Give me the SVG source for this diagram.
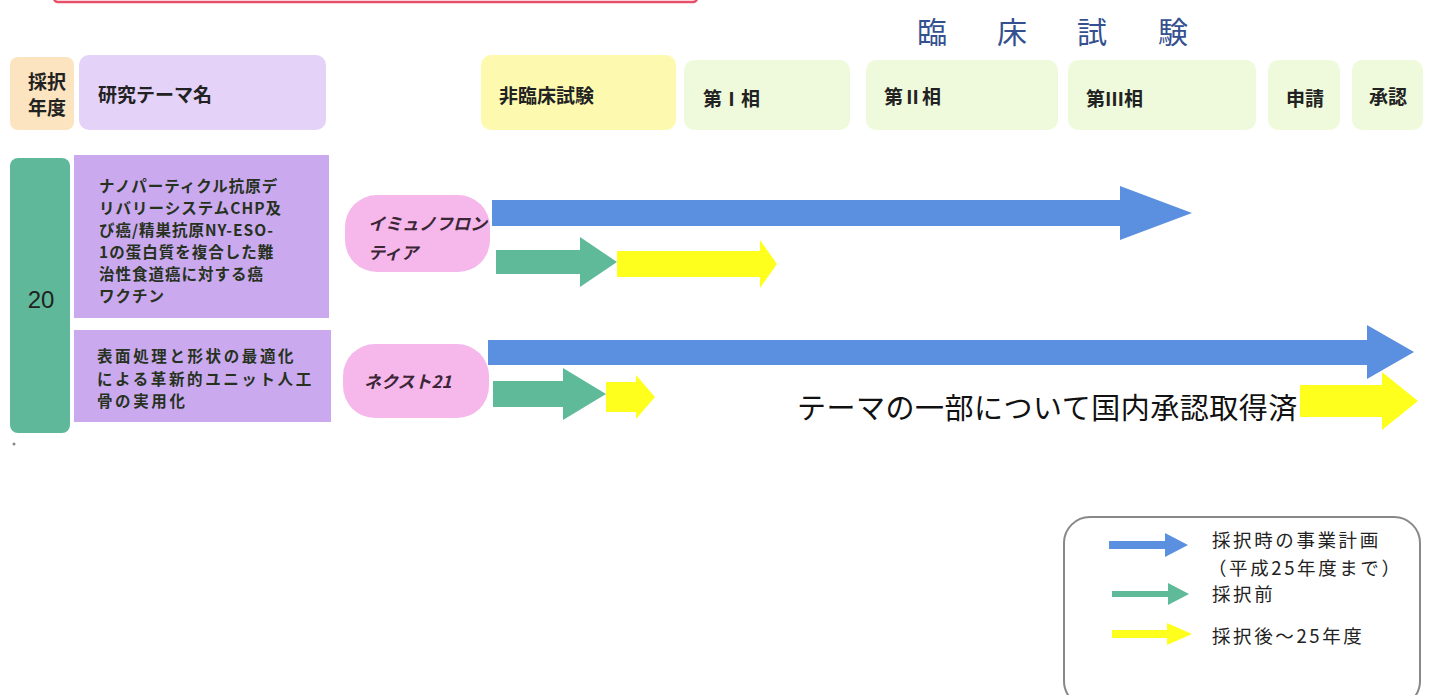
<svg xmlns="http://www.w3.org/2000/svg" width="1430" height="695" viewBox="0 0 1430 695">
<style>
.jp{font-family:"Noto Sans CJK JP","Liberation Sans",sans-serif}
.hd{font-size:19px;font-weight:bold;fill:#222}
.th{font-size:15.5px;font-weight:bold;fill:#26321e;letter-spacing:1px}
.th2{letter-spacing:2.6px}
.pl{font-size:17px;font-weight:bold;font-style:italic;fill:#3a2636}
.lg{font-size:18.5px;fill:#222;letter-spacing:2.6px}
.blue{fill:#5b8fdf}
.green{fill:#5fba9a}
.yellow{fill:#ffff1e}
.ph{fill:#eefadb}
</style>
<rect x="54" y="-20" width="643" height="22" rx="4" fill="#fff" stroke="#e8506a" stroke-width="2.5"/>

<g id="title">
<text class="jp" x="917" y="43" font-size="30" fill="#34508f"><tspan x="917">臨</tspan><tspan x="997">床</tspan><tspan x="1077">試</tspan><tspan x="1158">験</tspan></text>
</g>

<g id="hdr-year">
<rect x="10" y="57" width="64" height="73" rx="8" fill="#fde4c0"/>
<text class="jp hd" x="47" y="89" text-anchor="middle">採択</text>
<text class="jp hd" x="47" y="115" text-anchor="middle">年度</text>
</g>
<g id="hdr-theme">
<rect x="79" y="55" width="247" height="75" rx="10" fill="#e4d2f8"/>
<text class="jp hd" x="98" y="102">研究テーマ名</text>
</g>
<g id="hdr-nonclinical">
<rect x="481" y="55" width="195" height="75" rx="10" fill="#fdfab0"/>
<text class="jp hd" x="499" y="103">非臨床試験</text>
</g>
<g id="hdr-p1">
<rect x="684" y="60" width="166" height="70" rx="10" class="ph"/>
<text class="jp hd" x="703" y="106">第Ⅰ相</text>
</g>
<g id="hdr-p2">
<rect x="866" y="60" width="192" height="70" rx="10" class="ph"/>
<text class="jp hd" x="884" y="104">第Ⅱ相</text>
</g>
<g id="hdr-p3">
<rect x="1068" y="60" width="188" height="70" rx="10" class="ph"/>
<text class="jp hd" x="1086" y="106">第Ⅲ相</text>
</g>
<g id="hdr-apply">
<rect x="1268" y="60" width="72" height="70" rx="10" class="ph"/>
<text class="jp hd" x="1286" y="106">申請</text>
</g>
<g id="hdr-approve">
<rect x="1352" y="60" width="71" height="70" rx="10" class="ph"/>
<text class="jp hd" x="1369" y="104">承認</text>
</g>

<g id="year20">
<rect x="10" y="158" width="60" height="275" rx="8" fill="#5fb89a"/>
<text x="41" y="308" font-family="Liberation Sans, sans-serif" font-size="24" fill="#222" text-anchor="middle">20</text>
</g>
<circle cx="14" cy="444" r="1.5" fill="#888"/>

<g id="theme1">
<rect x="74" y="155" width="255" height="163" fill="#caa9ef"/>
<text class="jp th" x="99" y="192">ナノパーティクル抗原デ</text>
<text class="jp th" x="99" y="214">リバリーシステムCHP及</text>
<text class="jp th" x="99" y="236">び癌/精巣抗原NY-ESO-</text>
<text class="jp th" x="99" y="258">1の蛋白質を複合した難</text>
<text class="jp th" x="99" y="280">治性食道癌に対する癌</text>
<text class="jp th" x="99" y="302">ワクチン</text>
</g>
<g id="theme2">
<rect x="74" y="330" width="257" height="92" fill="#caa9ef"/>
<text class="jp th th2" x="97" y="362">表面処理と形状の最適化</text>
<text class="jp th th2" x="97" y="385">による革新的ユニット人工</text>
<text class="jp th th2" x="97" y="407">骨の実用化</text>
</g>

<g id="org1">
<rect x="345" y="195" width="145" height="77" rx="32" fill="#f6b7ea"/>
<text class="jp pl" x="368" y="230">イミュノフロン</text>
<text class="jp pl" x="368" y="259">ティア</text>
</g>
<g id="org2">
<rect x="343" y="344" width="146" height="74" rx="32" fill="#f6b7ea"/>
<text class="jp pl" x="364" y="388">ネクスト21</text>
</g>

<g id="connectors">
<polygon class="blue" points="492,200 1120,200 1120,186 1192,213 1120,240 1120,226 492,226"/>
<polygon class="green" points="496,250 580,250 580,237 617,262 580,287 580,274 496,274"/>
<polygon class="yellow" points="617,251 760,251 760,240 777,264 760,288 760,277 617,277"/>
<polygon class="blue" points="488,340 1367,340 1367,325 1414,352 1367,379 1367,365 488,365"/>
<polygon class="green" points="493,381 563,381 563,368 606,394 563,420 563,407 493,407"/>
<polygon class="yellow" points="606,382 636,382 636,375 655,397 636,419 636,412 606,412"/>
<polygon class="yellow" points="1300,385 1382,385 1382,372 1418,401 1382,430 1382,417 1300,417"/>
</g>

<g id="note">
<text class="jp" x="797" y="419" font-size="29" fill="#111" letter-spacing="0.5">テーマの一部について国内承認取得済</text>
</g>

<g id="legend">
<rect x="1064" y="517" width="356" height="190" rx="26" fill="#fff" stroke="#888" stroke-width="2"/>
<polygon class="blue" points="1109,541 1165,541 1165,533 1188,545 1165,557 1165,549 1109,549"/>
<polygon class="green" points="1112,591 1168,591 1168,583 1189,594 1168,605 1168,597 1112,597"/>
<polygon class="yellow" points="1112,630 1167,630 1167,623 1192,634 1167,645 1167,638 1112,638"/>
<text class="jp lg" x="1212" y="547">採択時の事業計画</text>
<text class="jp lg" x="1208" y="575">（平成25年度まで）</text>
<text class="jp lg" x="1212" y="601">採択前</text>
<text class="jp lg" x="1212" y="643">採択後～25年度</text>
</g>
</svg>
